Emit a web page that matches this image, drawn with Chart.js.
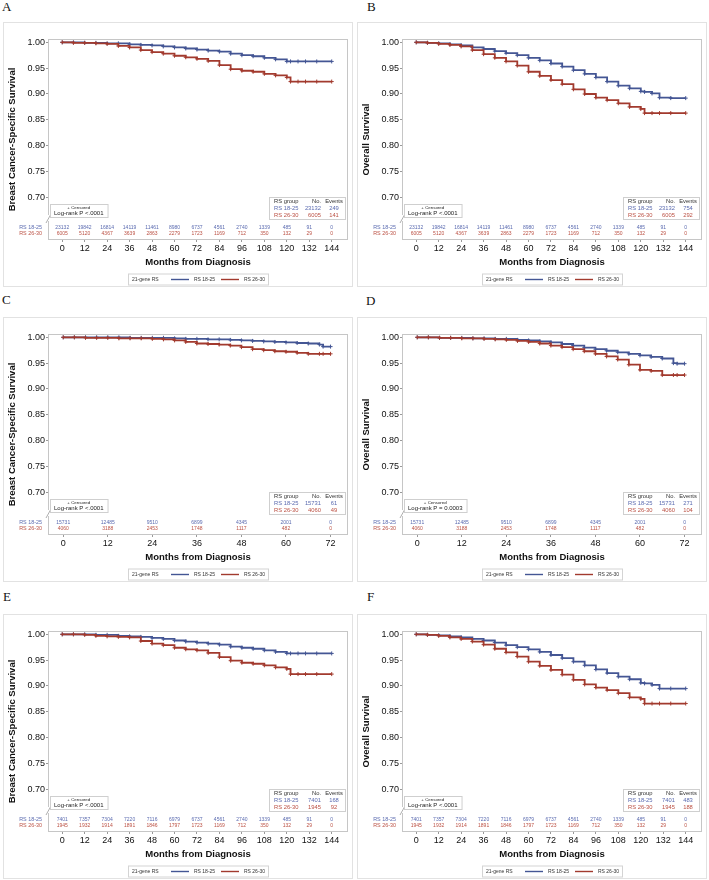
<!DOCTYPE html>
<html>
<head>
<meta charset="utf-8">
<script src="https://cdn.jsdelivr.net/npm/chart.js@4.4.1/dist/chart.umd.min.js"></script>
<style>
  body { margin: 0; background: #fff; }
  #wrap { position: relative; width: 709px; height: 880px; }
  canvas { position: absolute; }
  .lab { position: absolute; font: 13px "Liberation Serif", "Times New Roman", serif; line-height: 13px; color: #111; }
</style>
</head>
<body>
<div id="wrap"></div>
<script>
// Time points (months) used for the curve readings
const tLong = [0, 6, 12, 18, 24, 30, 36, 42, 48, 54, 60, 66, 72, 78, 84, 90, 96, 102, 108, 114, 120, 122, 126, 130, 136, 144];
const tShort = [0, 3, 6, 9, 12, 15, 18, 21, 24, 27, 30, 33, 36, 39, 42, 45, 48, 51, 54, 57, 60, 63, 66, 69, 70, 72];

// Tick labels
const ticksLong = [0, 12, 24, 36, 48, 60, 72, 84, 96, 108, 120, 132, 144];
const ticksShort = [0, 12, 24, 36, 48, 60, 72];
const yTicks = [0.70, 0.75, 0.80, 0.85, 0.90, 0.95, 1.00];

// Survival estimates
const survA18 = [1.000, 1.000, 0.999, 0.999, 0.998, 0.998, 0.996, 0.995, 0.994, 0.992, 0.990, 0.988, 0.986, 0.984, 0.982, 0.978, 0.975, 0.973, 0.970, 0.967, 0.963, 0.963, 0.963, 0.963, 0.963, 0.963];
const survA26 = [1.000, 0.999, 0.999, 0.998, 0.997, 0.993, 0.990, 0.985, 0.981, 0.978, 0.974, 0.971, 0.968, 0.964, 0.956, 0.948, 0.945, 0.943, 0.939, 0.936, 0.932, 0.924, 0.924, 0.924, 0.924, 0.924];
const survB18 = [1.000, 0.999, 0.998, 0.996, 0.994, 0.990, 0.987, 0.983, 0.979, 0.975, 0.970, 0.965, 0.959, 0.953, 0.946, 0.939, 0.932, 0.924, 0.916, 0.911, 0.905, 0.904, 0.901, 0.893, 0.892, 0.892];
const survB26 = [1.000, 0.999, 0.997, 0.995, 0.992, 0.985, 0.977, 0.970, 0.963, 0.955, 0.943, 0.935, 0.927, 0.919, 0.909, 0.900, 0.893, 0.888, 0.882, 0.875, 0.871, 0.863, 0.863, 0.863, 0.863, 0.863];
const survC18 = [1.000, 1.000, 1.000, 1.000, 1.000, 1.000, 0.999, 0.999, 0.999, 0.999, 0.998, 0.997, 0.997, 0.996, 0.996, 0.995, 0.994, 0.993, 0.992, 0.991, 0.990, 0.989, 0.988, 0.986, 0.982, 0.982];
const survC26 = [1.000, 1.000, 0.999, 0.999, 0.999, 0.998, 0.998, 0.998, 0.997, 0.996, 0.994, 0.991, 0.988, 0.987, 0.986, 0.984, 0.981, 0.977, 0.975, 0.973, 0.972, 0.970, 0.968, 0.968, 0.968, 0.968];
const survD18 = [1.000, 1.000, 0.999, 0.999, 0.999, 0.998, 0.998, 0.997, 0.997, 0.995, 0.994, 0.992, 0.990, 0.987, 0.984, 0.980, 0.977, 0.974, 0.971, 0.968, 0.965, 0.962, 0.959, 0.950, 0.949, 0.949];
const survD26 = [1.000, 1.000, 0.999, 0.999, 0.998, 0.998, 0.997, 0.996, 0.995, 0.993, 0.991, 0.988, 0.984, 0.981, 0.977, 0.973, 0.968, 0.963, 0.957, 0.947, 0.937, 0.935, 0.927, 0.927, 0.927, 0.927];
const survE18 = [1.000, 1.000, 1.000, 0.999, 0.999, 0.997, 0.996, 0.995, 0.993, 0.991, 0.988, 0.986, 0.984, 0.982, 0.980, 0.976, 0.974, 0.972, 0.969, 0.966, 0.963, 0.963, 0.963, 0.963, 0.963, 0.963];
const survE26 = [1.000, 1.000, 0.999, 0.997, 0.996, 0.995, 0.994, 0.987, 0.982, 0.979, 0.974, 0.971, 0.969, 0.964, 0.956, 0.949, 0.945, 0.943, 0.940, 0.936, 0.933, 0.923, 0.923, 0.923, 0.923, 0.923];
const survF18 = [1.000, 0.999, 0.998, 0.996, 0.994, 0.991, 0.988, 0.984, 0.979, 0.975, 0.971, 0.966, 0.960, 0.954, 0.947, 0.940, 0.932, 0.925, 0.918, 0.913, 0.906, 0.905, 0.902, 0.895, 0.895, 0.895];
const survF26 = [1.000, 0.999, 0.997, 0.994, 0.991, 0.986, 0.980, 0.972, 0.965, 0.957, 0.947, 0.939, 0.931, 0.922, 0.912, 0.903, 0.897, 0.892, 0.886, 0.878, 0.875, 0.866, 0.866, 0.866, 0.866, 0.866];

// Numbers at risk
const riskAll18 = [23132, 19842, 16814, 14119, 11461, 8980, 6737, 4561, 2740, 1339, 485, 91, 0];
const riskAll26 = [6005, 5120, 4367, 3639, 2863, 2279, 1723, 1169, 712, 350, 132, 29, 0];
const riskRecent18 = [15731, 12485, 9510, 6899, 4345, 2001, 0];
const riskRecent26 = [4060, 3188, 2453, 1748, 1117, 482, 0];
const riskSub18 = [7401, 7357, 7304, 7220, 7116, 6979, 6737, 4561, 2740, 1339, 485, 91, 0];
const riskSub26 = [1945, 1932, 1914, 1891, 1846, 1797, 1723, 1169, 712, 350, 132, 29, 0];

// Group sizes, events and log-rank p
const groupNames = ['RS 18-25', 'RS 26-30'];
const panelLabels = ['A', 'B', 'C', 'D', 'E', 'F'];
const nPatients = [[23132, 6005], [23132, 6005], [15731, 4060], [15731, 4060], [7401, 1945], [7401, 1945]];
const nEvents = [[249, 141], [754, 292], [61, 49], [271, 104], [168, 92], [483, 188]];
const pValues = ['P <.0001', 'P <.0001', 'P <.0001', 'P = 0.0003', 'P <.0001', 'P <.0001'];

const BLUE = '#445694';
const RED = '#A23A2E';
const BLUE_TXT = '#5b6bb0';
const RED_TXT = '#bb5043';
const FONT = '"Liberation Sans", Arial, sans-serif';

Chart.defaults.font.family = FONT;
Chart.defaults.color = '#111';

const kmExtras = {
  id: 'kmExtras',
  beforeDraw(chart) {
    const { ctx, width, height } = chart;
    ctx.save();
    ctx.fillStyle = '#fff';
    ctx.fillRect(0, 0, width, height);
    ctx.strokeStyle = '#e2e2e2';
    ctx.lineWidth = 1;
    ctx.strokeRect(0.5, 0.5, width - 1, height - 1);
    ctx.restore();
  },
  beforeDatasetsDraw(chart) {
    const { ctx, chartArea: a } = chart;
    ctx.save();
    ctx.strokeStyle = '#c6c6c6';
    ctx.lineWidth = 1;
    ctx.strokeRect(a.left + 0.5, a.top + 0.5, a.right - a.left - 1, a.bottom - a.top - 1);
    ctx.restore();
  },
  afterDraw(chart, args, o) {
    const { ctx, chartArea: a, scales } = chart;
    const xs = scales.x;
    ctx.save();

    // axis break mark
    ctx.fillStyle = '#fff';
    ctx.fillRect(a.left - 1, a.bottom - 25, 3, 6);
    ctx.strokeStyle = '#999';
    ctx.lineWidth = 0.8;
    ctx.beginPath();
    ctx.moveTo(a.left - 2, a.bottom - 17);
    ctx.lineTo(a.left + 3, a.bottom - 26);
    ctx.stroke();

    // numbers at risk
    ctx.textBaseline = 'middle';
    ctx.font = '5px ' + FONT;
    ctx.textAlign = 'center';
    o.ticks.forEach((t, i) => {
      const px = xs.getPixelForValue(t);
      ctx.fillStyle = BLUE_TXT;
      ctx.fillText(String(o.risk18[i]), px, a.bottom - 12);
      ctx.fillStyle = RED_TXT;
      ctx.fillText(String(o.risk26[i]), px, a.bottom - 6.5);
    });
    ctx.textAlign = 'right';
    ctx.font = '5.4px ' + FONT;
    ctx.fillStyle = BLUE_TXT;
    ctx.fillText(groupNames[0], a.left - 6, a.bottom - 12);
    ctx.fillStyle = RED_TXT;
    ctx.fillText(groupNames[1], a.left - 6, a.bottom - 6.5);

    // log-rank box
    ctx.font = '6px ' + FONT;
    const lr = 'Log-rank ' + o.p;
    const lw = ctx.measureText(lr).width + 8;
    const lx = a.left + 2, ly = a.bottom - 36;
    ctx.fillStyle = '#fff';
    ctx.fillRect(lx, ly, lw, 13);
    ctx.strokeStyle = '#cfcfcf';
    ctx.lineWidth = 1;
    ctx.strokeRect(lx + 0.5, ly + 0.5, lw, 13);
    ctx.fillStyle = '#222';
    ctx.textAlign = 'center';
    ctx.font = '4.4px ' + FONT;
    ctx.fillText('+ Censored', lx + lw / 2, ly + 4);
    ctx.font = '6px ' + FONT;
    ctx.fillText(lr, lx + lw / 2, ly + 9.6);

    // group / events table
    const ex = a.right - 79, ey = a.bottom - 43;
    ctx.fillStyle = '#fff';
    ctx.fillRect(ex, ey, 76, 22);
    ctx.strokeStyle = '#cfcfcf';
    ctx.strokeRect(ex + 0.5, ey + 0.5, 76, 22);
    ctx.font = '5.8px ' + FONT;
    ctx.fillStyle = '#333';
    ctx.textAlign = 'left';
    ctx.fillText('RS group', ex + 5, ey + 4.5);
    ctx.textAlign = 'right';
    ctx.fillText('No.', a.right - 27, ey + 4.5);
    ctx.textAlign = 'center';
    ctx.fillText('Events', a.right - 14, ey + 4.5);
    [[BLUE_TXT, 0, 11], [RED_TXT, 1, 18]].forEach(([c, k, dy]) => {
      ctx.fillStyle = c;
      ctx.textAlign = 'left';
      ctx.fillText(groupNames[k], ex + 5, ey + dy);
      ctx.textAlign = 'right';
      ctx.fillText(String(o.n[k]), a.right - 27, ey + dy);
      ctx.textAlign = 'center';
      ctx.fillText(String(o.ev[k]), a.right - 14, ey + dy);
    });

    // legend
    const cx = (a.left + a.right) / 2, cy = chart.height - 8;
    ctx.fillStyle = '#fff';
    ctx.fillRect(cx - 70, cy - 5.5, 140, 11);
    ctx.strokeStyle = '#d4d4d4';
    ctx.strokeRect(cx - 70 + 0.5, cy - 5.5 + 0.5, 140, 11);
    ctx.font = '5px ' + FONT;
    ctx.textAlign = 'left';
    ctx.fillStyle = '#333';
    ctx.fillText('21-gene RS', cx - 66, cy + 0.5);
    ctx.lineWidth = 1.4;
    ctx.strokeStyle = BLUE;
    ctx.beginPath(); ctx.moveTo(cx - 27, cy + 0.5); ctx.lineTo(cx - 9, cy + 0.5); ctx.stroke();
    ctx.fillText(groupNames[0], cx - 4, cy + 0.5);
    ctx.strokeStyle = RED;
    ctx.beginPath(); ctx.moveTo(cx + 23, cy + 0.5); ctx.lineTo(cx + 41, cy + 0.5); ctx.stroke();
    ctx.fillText(groupNames[1], cx + 46, cy + 0.5);

    ctx.restore();
  }
};

const panels = [
  { left: 3, top: 22, lx: 2, ly: 0, yTitle: 'Breast Cancer-Specific Survival', t: tLong, s18: survA18, s26: survA26, ticks: ticksLong, xMin: -7.6, xMax: 152.7, r18: riskAll18, r26: riskAll26 },
  { left: 357, top: 22, lx: 367, ly: 0, yTitle: 'Overall Survival', t: tLong, s18: survB18, s26: survB26, ticks: ticksLong, xMin: -7.6, xMax: 152.7, r18: riskAll18, r26: riskAll26 },
  { left: 3, top: 317, lx: 2, ly: 293, yTitle: 'Breast Cancer-Specific Survival', t: tShort, s18: survC18, s26: survC26, ticks: ticksShort, xMin: -4.1, xMax: 76.7, r18: riskRecent18, r26: riskRecent26 },
  { left: 357, top: 317, lx: 366, ly: 294, yTitle: 'Overall Survival', t: tShort, s18: survD18, s26: survD26, ticks: ticksShort, xMin: -4.1, xMax: 76.7, r18: riskRecent18, r26: riskRecent26 },
  { left: 3, top: 614, lx: 3, ly: 590, yTitle: 'Breast Cancer-Specific Survival', t: tLong, s18: survE18, s26: survE26, ticks: ticksLong, xMin: -7.6, xMax: 152.7, r18: riskSub18, r26: riskSub26 },
  { left: 357, top: 614, lx: 367, ly: 590, yTitle: 'Overall Survival', t: tLong, s18: survF18, s26: survF26, ticks: ticksLong, xMin: -7.6, xMax: 152.7, r18: riskSub18, r26: riskSub26 }
];

const wrap = document.getElementById('wrap');

panels.forEach((p, k) => {
  const lab = document.createElement('div');
  lab.className = 'lab';
  lab.textContent = panelLabels[k];
  lab.style.left = p.lx + 'px';
  lab.style.top = p.ly + 'px';
  wrap.appendChild(lab);

  const cv = document.createElement('canvas');
  cv.width = 350;
  cv.height = 265;
  cv.style.left = p.left + 'px';
  cv.style.top = p.top + 'px';
  wrap.appendChild(cv);

  const line = (label, vals, color, order) => ({
    label,
    data: p.t.map((m, i) => ({ x: m, y: vals[i] })),
    borderColor: color,
    backgroundColor: color,
    borderWidth: 1.8,
    stepped: true,
    fill: false,
    pointStyle: 'cross',
    pointRadius: 2,
    pointBorderWidth: 1,
    pointBorderColor: color,
    order
  });

  new Chart(cv, {
    type: 'line',
    data: {
      datasets: [
        line(groupNames[0], p.s18, BLUE, 1),
        line(groupNames[1], p.s26, RED, 0)
      ]
    },
    options: {
      responsive: false,
      animation: false,
      devicePixelRatio: 1,
      layout: { padding: { top: 17, right: 5, bottom: 15, left: 0 } },
      plugins: {
        legend: { display: false },
        tooltip: { enabled: false },
        kmExtras: {
          ticks: p.ticks, risk18: p.r18, risk26: p.r26,
          n: nPatients[k], ev: nEvents[k], p: pValues[k]
        }
      },
      scales: {
        x: {
          type: 'linear',
          min: p.xMin,
          max: p.xMax,
          afterBuildTicks: s => { s.ticks = p.ticks.map(v => ({ value: v })); },
          afterFit: s => { s.height = 32; },
          grid: { drawOnChartArea: false, tickLength: 2, color: '#999' },
          border: { display: false },
          ticks: { autoSkip: false, maxRotation: 0, padding: 1, color: '#111', font: { size: 9 } },
          title: { display: true, text: 'Months from Diagnosis', color: '#111', font: { size: 9.5, weight: 'bold' }, padding: { top: 0, bottom: 4 } }
        },
        y: {
          min: 0.6174,
          max: 1.0064,
          afterBuildTicks: s => { s.ticks = yTicks.map(v => ({ value: v })); },
          afterFit: s => { s.width = 45; },
          grid: { drawOnChartArea: false, tickLength: 2, color: '#999' },
          border: { display: false },
          ticks: { padding: 1, color: '#111', font: { size: 9 }, callback: v => Number(v).toFixed(2) },
          title: { display: true, text: p.yTitle, color: '#111', font: { size: 9.5, weight: 'bold' }, padding: { top: 4, bottom: 0 } }
        }
      }
    },
    plugins: [kmExtras]
  });
});
</script>
</body>
</html>
